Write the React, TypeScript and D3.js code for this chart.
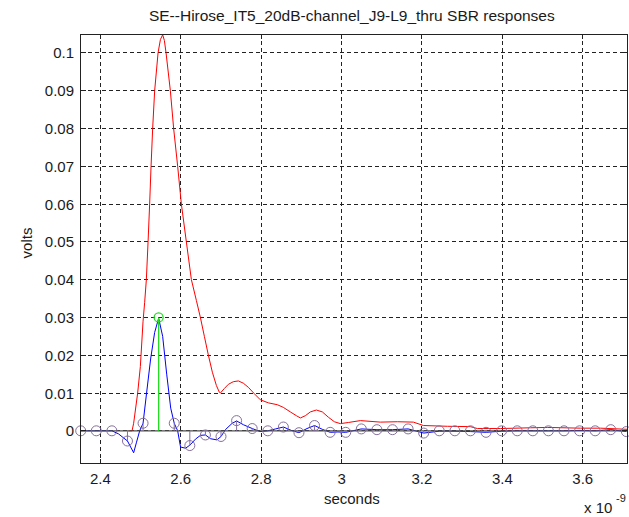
import React from "react";
import * as d3 from "d3";

const TITLE = "SE--Hirose_IT5_20dB-channel_J9-L9_thru SBR responses";
const X_LABEL = "seconds";
const Y_LABEL = "volts";
const X_TICKS = [2.4, 2.6, 2.8, 3.0, 3.2, 3.4, 3.6];
const X_TICK_LABELS = ["2.4", "2.6", "2.8", "3", "3.2", "3.4", "3.6"];
const Y_TICKS = [0, 0.01, 0.02, 0.03, 0.04, 0.05, 0.06, 0.07, 0.08, 0.09, 0.1];
const Y_TICK_LABELS = ["0", "0.01", "0.02", "0.03", "0.04", "0.05", "0.06", "0.07", "0.08", "0.09", "0.1"];

// Red: raw SBR response (time in ns, volts)
const redT = [2.470, 2.4789, 2.4828, 2.4928, 2.4995, 2.5062, 2.5102, 2.5144, 2.5187, 2.5226, 2.5261, 2.5301, 2.5351, 2.5435, 2.5493, 2.5550, 2.5592, 2.5634, 2.5741, 2.5823, 2.5923, 2.6015, 2.6139, 2.6264, 2.6388, 2.6488, 2.6587, 2.6687, 2.6786, 2.6886, 2.6960, 2.6985, 2.7085, 2.7184, 2.7308, 2.7433, 2.7557, 2.7682, 2.7831, 2.7980, 2.8179, 2.8403, 2.8552, 2.8726, 2.8876, 2.8975, 2.9100, 2.9224, 2.9373, 2.9522, 2.9672, 2.9821, 2.9970, 3.0169, 3.0468, 3.0965, 3.1388, 3.1786, 3.2035, 3.2632, 3.3204, 3.3378, 3.3950, 3.4697, 3.5119, 3.5940, 3.6438, 3.7100];
const redV = [0, 0, 0.002, 0.010, 0.017, 0.029, 0.034, 0.040, 0.050, 0.060, 0.070, 0.080, 0.090, 0.100, 0.1035, 0.1048, 0.1033, 0.100, 0.090, 0.080, 0.070, 0.060, 0.050, 0.040, 0.0345, 0.030, 0.025, 0.020, 0.0155, 0.0120, 0.0102, 0.0100, 0.0112, 0.0123, 0.0130, 0.0132, 0.0126, 0.0115, 0.0098, 0.0082, 0.0074, 0.0069, 0.0062, 0.0050, 0.0040, 0.0034, 0.0040, 0.0050, 0.0055, 0.0050, 0.0036, 0.0024, 0.0019, 0.0022, 0.0027, 0.0023, 0.0024, 0.0023, 0.0014, 0.0012, 0.0011, 0.0006, 0.0006, 0.0008, 0.0009, 0.0007, 0.0007, 0.0004];

// Blue: equalized response
const blueT = [2.3511, 2.3899, 2.4287, 2.445, 2.4675, 2.4828, 2.490, 2.4978, 2.5062, 2.515, 2.525, 2.535, 2.545, 2.555, 2.565, 2.575, 2.5838, 2.5923, 2.5995, 2.612, 2.6226, 2.6366, 2.649, 2.6614, 2.6743, 2.690, 2.7002, 2.711, 2.728, 2.7390, 2.756, 2.7778, 2.797, 2.8166, 2.836, 2.8554, 2.875, 2.8941, 2.914, 2.9329, 2.952, 2.9717, 2.991, 3.0105, 3.0493, 3.0881, 3.1269, 3.1657, 3.2045, 3.2433, 3.2821, 3.3209, 3.3597, 3.3985, 3.4373, 3.4761, 3.5149, 3.5537, 3.5925, 3.6313, 3.6701, 3.7084];
const blueV = [0, 0, 0, -0.0008, -0.0027, -0.0058, -0.003, 0, 0.0020, 0.010, 0.019, 0.026, 0.0298, 0.025, 0.015, 0.006, 0.0020, 0, -0.0043, -0.0046, -0.0038, -0.0022, -0.0012, -0.0011, -0.0021, -0.0024, -0.0015, 0.0003, 0.0020, 0.0026, 0.0016, 0.0006, -0.0002, 0.0000, 0.0005, 0.0010, 0.0001, -0.0005, 0.0006, 0.0014, 0.0004, -0.0004, -0.0003, -0.0004, 0.0005, 0.0003, 0.0003, 0.0005, -0.0006, -0.0001, -0.0001, -0.0002, -0.0004, -0.0001, 0, 0, 0, 0, 0.0001, 0, 0.0003, -0.0002];

// Sampled cursors (one per UI)
const MAIN_CURSOR_T = 2.545;
const UI = 0.03878;
const cursorK = [-5, -4, -3, -2, -1, 1, 2, 3, 4, 5, 6, 7, 8, 9, 10, 11, 12, 13, 14, 15, 16, 17, 18, 19, 20, 21, 22, 23, 24, 25, 26, 27, 28, 29, 30];
const cursorV = [0, 0, 0, -0.0027, 0.0020, 0.0020, -0.0039, -0.0011, -0.0015, 0.0027, 0.0006, 0.0000, 0.0010, -0.0005, 0.0014, -0.0004, -0.0004, 0.0005, 0.0003, 0.0003, 0.0005, -0.0006, 0, 0, 0, -0.0004, 0, 0, 0, 0, 0, 0, 0, 0.0003, -0.0002];
const MAIN_CURSOR_V = 0.030;

const W = 629;
const H = 517;
const L = 80.7, R = 627, T = 34, B = 463.5;
const FONT = "'Liberation Sans', Arial, sans-serif";

export default function App() {
  const x = d3.scaleLinear().domain([2.3511, 3.71]).range([L, R]);
  const y = d3.scaleLinear().domain([-0.00865, 0.105]).range([B, T]);
  const line = d3.line<[number, number]>().x(d => x(d[0])).y(d => y(d[1]));
  const red = line(redT.map((t, i) => [t, redV[i]] as [number, number])) || "";
  const blue = line(blueT.map((t, i) => [t, blueV[i]] as [number, number])) || "";
  const cursorColor = "#85709c";
  const tl = 5;
  return (
    <div style={{ position: "fixed", left: 0, top: 0, width: W, height: H, background: "#fff" }}>
      <svg width={W} height={H} style={{ display: "block" }} fontFamily={FONT}>
        <rect x={0} y={0} width={W} height={H} fill="#fff" />
        <text x={(L + R) / 2 - 2} y={21} textAnchor="middle" fontSize={15.5} fill="#1a1a1a">{TITLE}</text>
        {/* grid */}
        <g stroke="#222" strokeWidth={1} strokeDasharray="4 3" shapeRendering="crispEdges">
          {X_TICKS.map((t, i) => (
            <line key={"gx" + i} x1={x(t)} x2={x(t)} y1={T} y2={B} />
          ))}
          {Y_TICKS.map((v, i) => (
            <line key={"gy" + i} x1={L} x2={R} y1={y(v)} y2={y(v)} />
          ))}
        </g>
        <path d={red} fill="none" stroke="#ff0000" strokeWidth={1} />
        <path d={blue} fill="none" stroke="#0000ff" strokeWidth={1} />
        {/* baseline */}
        <line x1={L} x2={R} y1={y(0)} y2={y(0)} stroke="#505050" strokeWidth={1.2} />
        {/* cursor stems */}
        <g stroke={cursorColor} fill="none" strokeWidth={1}>
          {cursorK.map((k, i) => {
            const cx = x(MAIN_CURSOR_T + k * UI);
            const cy = y(cursorV[i]);
            return (
              <g key={"c" + i}>
                <line x1={cx} x2={cx} y1={y(0)} y2={cy} />
                <circle cx={cx} cy={cy} r={5} />
              </g>
            );
          })}
        </g>
        <g stroke="#22dd22" fill="none" strokeWidth={1.3}>
          <line x1={x(MAIN_CURSOR_T)} x2={x(MAIN_CURSOR_T)} y1={y(0)} y2={y(MAIN_CURSOR_V)} />
          <circle cx={x(MAIN_CURSOR_T)} cy={y(MAIN_CURSOR_V)} r={4.5} />
        </g>
        {/* axes box & ticks */}
        <g stroke="#222" strokeWidth={1} shapeRendering="crispEdges">
          <rect x={L} y={T} width={R - L} height={B - T} fill="none" />
          {X_TICKS.map((t, i) => (
            <g key={"tx" + i}>
              <line x1={x(t)} x2={x(t)} y1={B} y2={B - tl} />
              <line x1={x(t)} x2={x(t)} y1={T} y2={T + tl} />
            </g>
          ))}
          {Y_TICKS.map((v, i) => (
            <g key={"ty" + i}>
              <line x1={L} x2={L + tl} y1={y(v)} y2={y(v)} />
              <line x1={R} x2={R - tl} y1={y(v)} y2={y(v)} />
            </g>
          ))}
        </g>
        <g fontSize={15} fill="#1a1a1a">
          {X_TICKS.map((t, i) => (
            <text key={"lx" + i} x={x(t)} y={484} textAnchor="middle">{X_TICK_LABELS[i]}</text>
          ))}
          {Y_TICKS.map((v, i) => (
            <text key={"ly" + i} x={74} y={y(v) + 5.5} textAnchor="end">{Y_TICK_LABELS[i]}</text>
          ))}
          <text x={(L + R) / 2 - 2} y={504} textAnchor="middle">{X_LABEL}</text>
          <text transform={`translate(32,243) rotate(-90)`} textAnchor="middle">{Y_LABEL}</text>
          <text x={584} y={513}>x 10</text>
          <text x={616} y={502} fontSize={11}>-9</text>
        </g>
      </svg>
    </div>
  );
}
